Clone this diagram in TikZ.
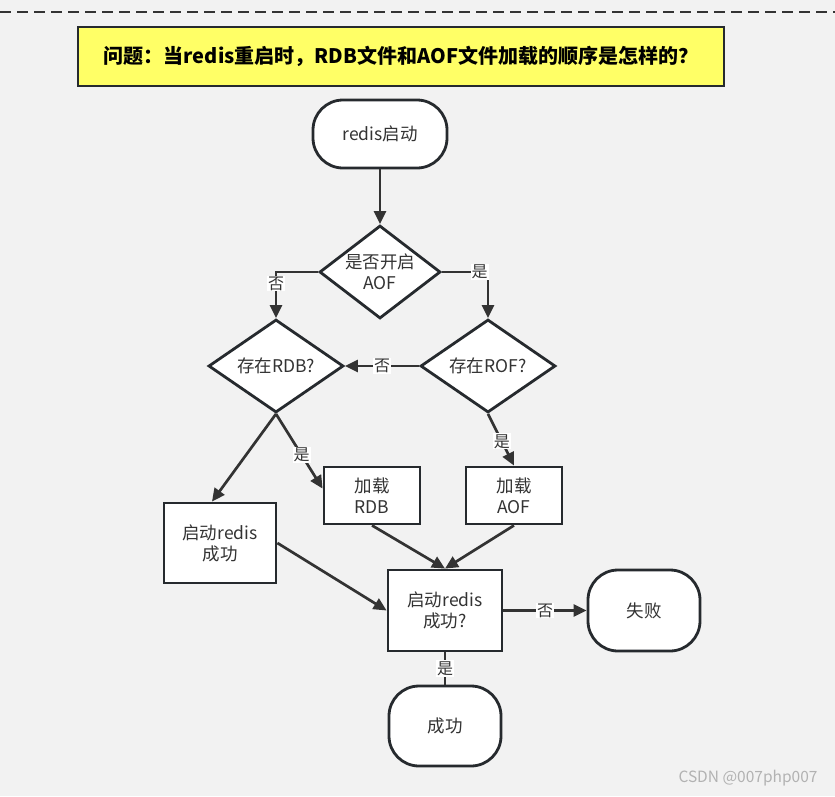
\documentclass[tikz,border=0pt]{standalone}
\usepackage{fontspec}
\setmainfont{Noto Sans CJK SC}
\usetikzlibrary{shapes.geometric,arrows.meta}
\definecolor{bg}{HTML}{F2F2F2}
\definecolor{ink}{HTML}{262A2E}
\definecolor{wire}{HTML}{333333}
\definecolor{txt}{HTML}{333333}
\definecolor{note}{HTML}{FFFF66}
\begin{document}
\begin{tikzpicture}[x=1pt,y=-1pt,
  base/.style={draw=ink, line width=2.8pt, fill=white, text=txt, inner sep=0pt, align=center,
    font=\fontsize{17.5}{21}\selectfont},
  term/.style={base, rectangle, rounded corners=30pt, minimum width=134pt, minimum height=68pt},
  proc/.style={base, rectangle, minimum width=96pt, minimum height=57pt},
  decide/.style={base, diamond, minimum width=121pt, minimum height=93pt},
  dtext/.style={text=txt, align=center, inner sep=0pt, font=\fontsize{17.5}{21}\selectfont},
  arr/.style={draw=wire, line width=2.7pt, -{Triangle[length=13pt,width=12pt]}},
  ln/.style={draw=wire, line width=2.7pt},
  lbl/.style={fill=white, text=txt, inner sep=1pt, font=\fontsize{16}{18}\selectfont}]
\useasboundingbox (0,0) rectangle (835,796);
\fill[bg] (0,0) rectangle (835,796);
\draw[draw=wire, line width=2.4pt, dash pattern=on 11pt off 6pt] (0,12) -- (835,12);

\node[draw=ink, line width=2.2pt, fill=note, minimum width=646pt, minimum height=59pt, inner sep=0pt,
  font=\bfseries\fontsize{20}{23}\selectfont, text=black] (title) at (401,56.5)
  {问题：当redis重启时，RDB文件和AOF文件加载的顺序是怎样的？};

\node[term] (start) at (380,134) {redis启动};
\node[decide] (aof) at (380,272) {};
\node[dtext] (aoft) at (aof.center) {是否开启\\AOF};
\node[decide, minimum width=135pt] (rdb) at (276,366) {};
\node[dtext] (rdbt) at (rdb.center) {存在RDB?};
\node[decide, minimum width=135pt] (rof) at (488,366) {};
\node[dtext] (roft) at (rof.center) {存在ROF?};
\node[proc] (ldrdb) at (372,495.5) {加载\\RDB};
\node[proc] (ldaof) at (514,495.5) {加载\\AOF};
\node[proc, minimum width=112pt, minimum height=80pt] (ok1) at (220,543) {启动redis\\成功};
\node[proc, minimum width=114pt, minimum height=81pt] (chk) at (445,610.5) {启动redis\\成功?};
\node[term, minimum width=112pt, minimum height=81pt] (fail) at (644,610.5) {失败};
\node[term, minimum width=112pt, minimum height=80pt] (succ) at (445,726) {成功};

\draw[arr] (start.south) -- (aof.north);
\draw[arr] (aof.west) -| node[lbl, pos=0.625] {否} (rdb.north);
\draw[arr] (aof.east) -| node[lbl, pos=0.41] {是} (rof.north);
\draw[arr] (rof.west) -- node[lbl, pos=0.5] {否} (rdb.east);
\draw[arr] (rof.south) -- node[lbl, pos=0.53] {是} (ldaof.north);
\draw[arr] (rdb.south) -- node[lbl, pos=0.55] {是} ([yshift=-23pt]ldrdb.north west);
\draw[arr] (rdb.south) -- ([xshift=-8pt]ok1.north);
\draw[arr] (ldrdb.south) -- (chk.north);
\draw[arr] (ldaof.south) -- (chk.north);
\draw[arr] (ok1.east) -- (chk.west);
\draw[arr] (chk.east) -- node[lbl, pos=0.5] {否} (fail.west);
\draw[ln] (chk.south) -- node[lbl, pos=0.5] {是} (succ.north);

\node[text=gray!60, font=\fontsize{15.5}{18}\selectfont, anchor=east] (mark) at (821,778) {CSDN @007php007};
\end{tikzpicture}
\end{document}
